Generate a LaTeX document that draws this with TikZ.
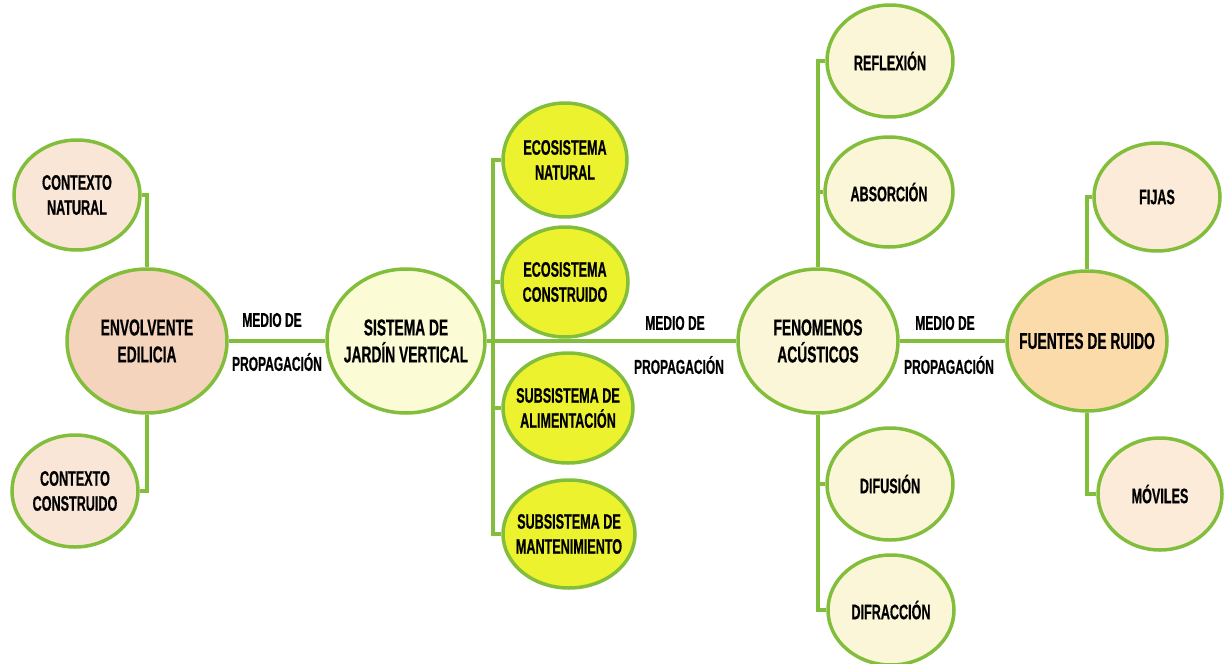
\documentclass[tikz,border=0pt]{standalone}
\usepackage{fontspec}
\setmainfont{Liberation Sans}[FakeStretch=0.6, BoldFeatures={FakeBold=0.6}]
\usetikzlibrary{shapes.geometric}
\definecolor{lgreen}{HTML}{82BE3C}
\definecolor{peachA}{HTML}{FAE6D6}
\definecolor{peachB}{HTML}{F5D4BD}
\definecolor{ylight}{HTML}{FBFBD5}
\definecolor{ybright}{HTML}{EDF22E}
\definecolor{cream}{HTML}{FCF6D8}
\definecolor{orangeL}{HTML}{FCDBAA}
\definecolor{peachC}{HTML}{FCEBD9}
\tikzset{
  bub/.style={ellipse, draw=lgreen, line width=3.5pt, inner sep=-30pt, align=center,
    font=\fontsize{21}{25}\selectfont\bfseries, text=black},
  bigbub/.style={bub, font=\fontsize{23}{27}\selectfont\bfseries},
  lbl/.style={inner sep=0pt, font=\fontsize{20}{22}\selectfont\bfseries, text=black},
  link/.style={draw=lgreen, line width=3.5pt}
}
\begin{document}
\begin{tikzpicture}[x=1pt,y=-1pt]
\useasboundingbox (0,0) rectangle (1224,664);
% left group
\node[bub, fill=peachA, minimum width=126pt, minimum height=110pt] (cn) at (77,195) {CONTEXTO\\NATURAL};
\node[bigbub, fill=peachB, minimum width=160pt, minimum height=144pt] (env) at (147,341) {ENVOLVENTE\\EDILICIA};
\node[bub, fill=peachA, minimum width=126pt, minimum height=112pt] (cc) at (75,491) {CONTEXTO\\CONSTRUIDO};
% sistema
\node[bigbub, fill=ylight, minimum width=158pt, minimum height=144pt] (sis) at (406,341) {SISTEMA DE\\JARDÍN VERTICAL};
\node[bub, fill=ybright, minimum width=124pt, minimum height=114pt] (eco1) at (565,160) {ECOSISTEMA\\NATURAL};
\node[bub, fill=ybright, minimum width=126pt, minimum height=110pt] (eco2) at (565,282) {ECOSISTEMA\\CONSTRUIDO};
\node[bub, fill=ybright, minimum width=130pt, minimum height=110pt] (sub1) at (568,408) {SUBSISTEMA DE\\ALIMENTACIÓN};
\node[bub, fill=ybright, minimum width=132pt, minimum height=108pt] (sub2) at (569,534) {SUBSISTEMA DE\\MANTENIMIENTO};
% fenomenos
\node[bigbub, fill=cream, minimum width=160pt, minimum height=144pt] (fen) at (818,341) {FENOMENOS\\ACÚSTICOS};
\node[bub, fill=cream, minimum width=126pt, minimum height=112pt] (ref) at (890,61) {REFLEXIÓN};
\node[bub, fill=cream, minimum width=128pt, minimum height=110pt] (abs) at (889,192) {ABSORCIÓN};
\node[bub, fill=cream, minimum width=126pt, minimum height=112pt] (dfu) at (890,484) {DIFUSIÓN};
\node[bub, fill=cream, minimum width=126pt, minimum height=110pt] (dfr) at (891,610) {DIFRACCIÓN};
% fuentes
\node[bigbub, fill=orangeL, minimum width=160pt, minimum height=140pt] (fue) at (1087,341) {FUENTES DE RUIDO};
\node[bub, fill=peachC, minimum width=126pt, minimum height=108pt] (fij) at (1157,197) {FIJAS};
\node[bub, fill=peachC, minimum width=124pt, minimum height=112pt] (mov) at (1160,494) {MÓVILES};
% labels
\node[lbl] (m1) at (272,320) {MEDIO DE};
\node[lbl] (p1) at (277,362) {PROPAGACIÓN};
\node[lbl] (m2) at (675,323) {MEDIO DE};
\node[lbl] (p2) at (679,365) {PROPAGACIÓN};
\node[lbl] (m3) at (945,323) {MEDIO DE};
\node[lbl] (p3) at (949,365) {PROPAGACIÓN};
% connectors
\coordinate (b1) at (493,341);
\draw[link] (cn.east) -| (env.north);
\draw[link] (env.south) |- (cc.east);
\draw[link] (env.east) -- (sis.west);
\draw[link] (sis.east) -- (fen.west);
\draw[link] (eco1.west) -| (b1) |- (sub2.west);
\draw[link] (eco2.west) -| (b1);
\draw[link] (sub1.west) -| (b1);
\draw[link] (fen.north) |- (ref.west);
\draw[link] (abs.west) -| (fen.north);
\draw[link] (fen.south) |- (dfr.west);
\draw[link] (dfu.west) -| (fen.south);
\draw[link] (fen.east) -- (fue.west);
\draw[link] (fue.north) |- (fij.west);
\draw[link] (fue.south) |- (mov.west);
\end{tikzpicture}
\end{document}
